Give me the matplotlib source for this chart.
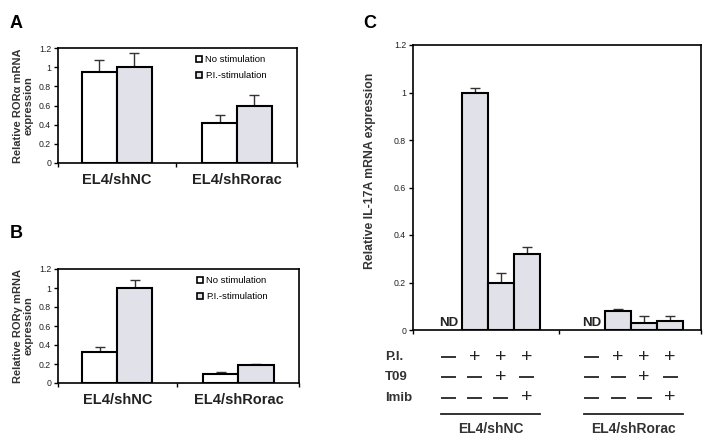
import matplotlib
matplotlib.use("Agg")
import matplotlib.pyplot as plt
from matplotlib.patches import Patch
import matplotlib.transforms as mtransforms

plt.rcParams['font.family'] = ['Liberation Sans', 'DejaVu Sans']

# ---------------- data ----------------
groups = ["EL4/shNC", "EL4/shRorac"]
series = ["No stimulation", "P.I.-stimulation"]

rora_nostim = [0.95, 0.42]
rora_nostim_err = [0.12, 0.08]
rora_pi = [1.00, 0.60]
rora_pi_err = [0.15, 0.11]

rorg_nostim = [0.33, 0.10]
rorg_nostim_err = [0.05, 0.02]
rorg_pi = [1.00, 0.19]
rorg_pi_err = [0.08, 0.01]

# panel C: 4 conditions per group, first condition not detected (ND)
il17_nc = [None, 1.00, 0.20, 0.32]
il17_nc_err = [None, 0.02, 0.04, 0.03]
il17_rorac = [None, 0.08, 0.03, 0.04]
il17_rorac_err = [None, 0.01, 0.03, 0.02]
row_labels = ["P.I.", "T09", "Imib"]
conditions = [["-", "+", "+", "+"],
              ["-", "-", "+", "-"],
              ["-", "-", "-", "+"]]

yticks = [0, 0.2, 0.4, 0.6, 0.8, 1, 1.2]
ytick_labels = ["0", "0.2", "0.4", "0.6", "0.8", "1", "1.2"]

GRAY = "#e1e1e9"
W, H = 712, 442

fig = plt.figure(figsize=(W / 100, H / 100), dpi=100)


def px_axes(left, top, right, bottom):
    return fig.add_axes([left / W, 1 - bottom / H, (right - left) / W, (bottom - top) / H])


def style_axes(ax, tick_size=6.3):
    for s in ax.spines.values():
        s.set_linewidth(1.2)
    ax.set_ylim(0, 1.2)
    ax.set_yticks(yticks)
    ax.set_yticklabels(ytick_labels, fontsize=tick_size, color="#222222")
    ax.tick_params(axis='y', direction='out', length=3, width=1, pad=2)
    ax.tick_params(axis='x', direction='out', length=3, width=1, labelbottom=False)


def small_panel(left, top, right, bottom, nostim, nostim_err, pi, pi_err, ylabel, letter, letter_xy):
    ax = px_axes(left, top, right, bottom)
    x = [0, 1]
    w = 0.29
    xa = [xi - w / 2 for xi in x]
    xb = [xi + w / 2 for xi in x]
    ax.bar(xa, nostim, w, color="white", edgecolor="black", linewidth=1.5, zorder=2)
    ax.bar(xb, pi, w, color=GRAY, edgecolor="black", linewidth=1.5, zorder=2)
    ax.errorbar(xa, nostim, yerr=[[0] * 2, nostim_err], fmt="none", ecolor="#333333",
                elinewidth=1, capsize=3.5, capthick=1, zorder=1)
    ax.errorbar(xb, pi, yerr=[[0] * 2, pi_err], fmt="none", ecolor="#333333",
                elinewidth=1, capsize=3.5, capthick=1, zorder=1)
    ax.set_xlim(-0.49, 1.5)
    ax.set_xticks([-0.49, 0.49, 1.5])
    style_axes(ax)
    ax.set_ylabel(ylabel, fontsize=8, fontweight="bold", color="#333333", labelpad=4,
                  linespacing=1.0)
    for xi, g in zip(x, groups):
        ax.text(xi, -0.15, g, transform=ax.get_xaxis_transform(), ha="center", va="center",
                fontsize=10.5, fontweight="bold", color="#222222")
    handles = [Patch(facecolor="white", edgecolor="black", linewidth=1.2),
               Patch(facecolor=GRAY, edgecolor="black", linewidth=1.2)]
    ax.legend(handles, series, loc="upper left", bbox_to_anchor=(0.56, 0.97), frameon=False,
              fontsize=6.8, handlelength=0.7, handleheight=0.7, handletextpad=0.3,
              labelspacing=0.75, borderaxespad=0)
    fig.text(letter_xy[0] / W, 1 - letter_xy[1] / H, letter, fontsize=13, fontweight="bold",
             ha="left", va="center")
    return ax


small_panel(58, 48, 297, 163, rora_nostim, rora_nostim_err, rora_pi, rora_pi_err,
            "Relative RORα mRNA\nexpression", "A", (10, 23))
small_panel(58, 269, 299, 383, rorg_nostim, rorg_nostim_err, rorg_pi, rorg_pi_err,
            "Relative RORγ mRNA\nexpression", "B", (10, 234))

# ---------------- panel C ----------------
axc = px_axes(413, 45, 701, 330)
pos_nc = [0, 1, 2, 3]
pos_ro = [5.5, 6.5, 7.5, 8.5]
w = 1.0
for pos, vals, errs in [(pos_nc, il17_nc, il17_nc_err), (pos_ro, il17_rorac, il17_rorac_err)]:
    for p, v, e in zip(pos, vals, errs):
        if v is None:
            axc.text(p, 0.006, "ND", ha="center", va="bottom", fontsize=9.5, fontweight="bold",
                     color="#222222")
            continue
        axc.bar(p, v, w, color=GRAY, edgecolor="black", linewidth=1.5, zorder=2)
        axc.errorbar(p, v, yerr=[[0], [e]], fmt="none", ecolor="#333333", elinewidth=1,
                     capsize=3.5, capthick=1, zorder=1)
axc.set_xlim(-1.38, 9.69)
axc.set_xticks([-1.38, 4.23, 9.69])
style_axes(axc)
axc.set_ylabel("Relative IL-17A mRNA expression", fontsize=8.8, fontweight="bold",
               color="#333333")
axc.yaxis.set_label_coords(-0.13, 0.56)
fig.text(363 / W, 1 - 24 / H, "C", fontsize=13, fontweight="bold", ha="left", va="center")

trans = mtransforms.blended_transform_factory(axc.transData, fig.transFigure)
row_y = [357, 377, 398]
for lab, ry, conds in zip(row_labels, row_y, conditions):
    fig.text(385 / W, 1 - ry / H, lab, fontsize=9.5, fontweight="bold", ha="left", va="center",
             color="#333333")
    for pos in (pos_nc, pos_ro):
        for p, c in zip(pos, conds):
            if c == "+":
                axc.text(p, 1 - ry / H, "+", transform=trans, ha="center", va="center",
                         fontsize=14, color="#222222", clip_on=False)
            else:
                axc.plot([p - 0.25, p + 0.25], [1 - ry / H, 1 - ry / H], transform=trans,
                         color="#333333", linewidth=1.4, clip_on=False)

line_y = 1 - 414 / H
for pos, g in [(pos_nc, groups[0]), (pos_ro, groups[1])]:
    axc.plot([pos[0] - 0.3, pos[-1] + 0.5], [line_y, line_y], transform=trans, color="#222222",
             linewidth=1.3, clip_on=False)
    axc.text((pos[0] + pos[-1]) / 2 + 0.1, 1 - 429 / H, g, transform=trans, ha="center",
             va="center", fontsize=10, fontweight="bold", color="#333333", clip_on=False)

fig.savefig("out.png", dpi=100)
